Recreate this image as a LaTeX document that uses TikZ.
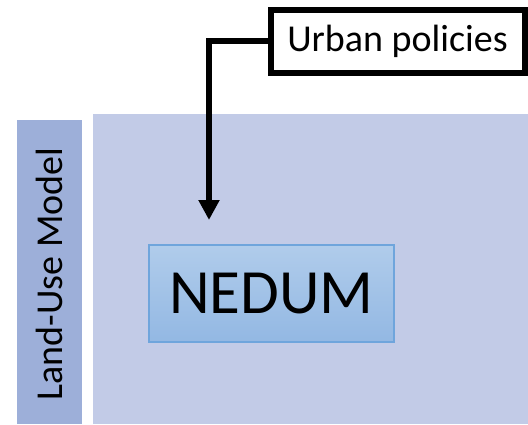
\documentclass[tikz,border=0pt]{standalone}
\usepackage{fontspec}
\setmainfont{Carlito}
\usetikzlibrary{arrows.meta}
\definecolor{barblue}{RGB}{157,175,217}
\definecolor{panelblue}{RGB}{194,203,231}
\definecolor{nedtop}{RGB}{176,204,235}
\definecolor{nedbot}{RGB}{147,184,227}
\definecolor{nedline}{RGB}{111,165,220}
\tikzset{
  policybox/.style={draw=black, fill=white, line width=6pt, inner sep=0pt,
    minimum width=254pt, minimum height=63.5pt, font=\fontsize{38}{40}\selectfont},
  modelbox/.style={draw=nedline, line width=1.5pt, top color=nedtop, bottom color=nedbot,
    inner sep=0pt, minimum width=245pt, minimum height=97pt, font=\fontsize{63}{70}\selectfont},
  flow/.style={line width=6pt, -{Triangle[length=20pt,width=20pt]}},
  sidelabel/.style={rotate=90, inner sep=0pt, font=\fontsize{38}{40}\selectfont}
}
\begin{document}
\begin{tikzpicture}[x=1pt,y=-1pt]
\useasboundingbox (0,0) rectangle (528,424);
\fill[barblue] (17,120) rectangle (82,424);
\fill[panelblue] (92.5,114) rectangle (528,424);
\node[sidelabel] (lum) at (49.5,274) {Land-Use Model};
\node[modelbox] (nedum) at (271.5,293.5) {NEDUM};
\node[policybox] (up) at (397.5,41.25) {Urban policies\hspace{20pt}};
\coordinate (tip) at (209,220);
\draw[flow] (up.west) -| (tip);
\end{tikzpicture}
\end{document}
